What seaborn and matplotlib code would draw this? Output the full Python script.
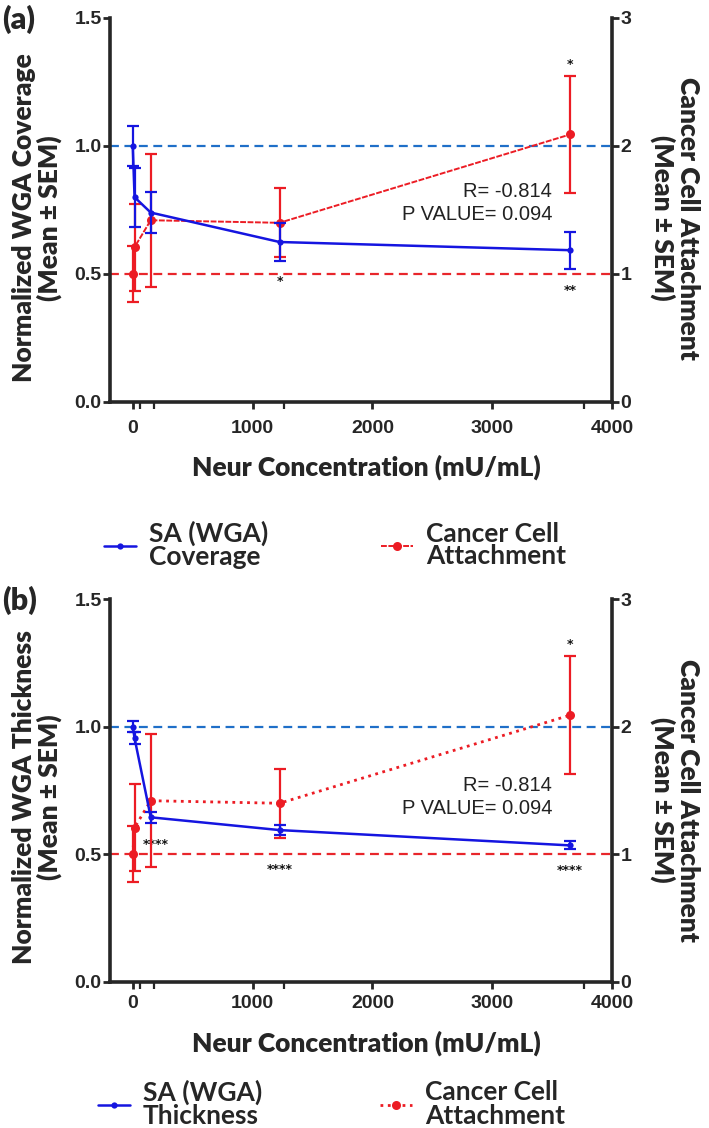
import matplotlib
matplotlib.use("Agg")
import matplotlib.pyplot as plt
from matplotlib.lines import Line2D
from matplotlib.ticker import FormatStrFormatter
import seaborn as sns

# Neuraminidase concentration (mU/mL)
conc = [0, 15, 150, 1225, 3650]

# (a) normalized WGA coverage (left axis)
cov_mean = [1.00, 0.80, 0.74, 0.625, 0.593]
cov_sem = [0.078, 0.115, 0.08, 0.073, 0.072]

# (b) normalized WGA thickness (left axis)
thk_mean = [1.00, 0.955, 0.645, 0.595, 0.535]
thk_sem = [0.022, 0.024, 0.022, 0.02, 0.016]

# cancer cell attachment (right axis), same in both panels
att_mean = [1.00, 1.21, 1.42, 1.40, 2.09]
att_sem = [0.22, 0.34, 0.52, 0.27, 0.46]

x_ticks = [0, 1000, 2000, 3000, 4000]
x_minor = [60, 180, 1260, 3770]
left_ticks = [0.0, 0.5, 1.0, 1.5]
right_ticks = [0, 1, 2, 3]

# significance marks (text, x, y on left axis)
stars_a_txt = ["*", "**", "*"]
stars_a_x = [1225, 3650, 3650]
stars_a_y = [0.47, 0.435, 1.32]
stars_b_txt = ["****", "****", "****", "*"]
stars_b_x = [190, 1225, 3650, 3650]
stars_b_y = [0.54, 0.44, 0.437, 1.32]

corr_text = "R= -0.814\nP VALUE= 0.094"

BLUE = "#1515e0"
RED = "#ec1c24"
REF_BLUE = "#1f6fc8"
REF_RED = "#e8262b"

W, H = 709, 1128

sns.set_style("ticks")
plt.rcParams["font.family"] = ["Lato", "DejaVu Sans"]


def fx(px):
    return px / W


def fy(py):
    return 1 - py / H


def draw_panel(ax, wga_mean, wga_sem, att_ls, att_lw, stars, text_y, tickpad):
    ax2 = ax.twinx()
    ax.axhline(1.0, color=REF_BLUE, ls=(0, (4, 2.5)), lw=1.6, zorder=1)
    ax.axhline(0.5, color=REF_RED, ls=(0, (4, 2.5)), lw=1.6, zorder=1)

    sns.lineplot(x=conc, y=att_mean, ax=ax2, color=RED, lw=att_lw, ls=att_ls,
                 marker="o", markersize=6.5, markeredgewidth=0, legend=False)
    ax2.errorbar(conc, att_mean, yerr=att_sem, fmt="none", ecolor=RED,
                 elinewidth=1.6, capsize=4, capthick=1.6)

    sns.lineplot(x=conc, y=wga_mean, ax=ax2, color=BLUE, lw=1.8,
                 marker="o", markersize=4.5, markeredgewidth=0, legend=False)
    ax2.lines[-1].set_ydata([v * 2 for v in wga_mean])
    ax2.errorbar(conc, [v * 2 for v in wga_mean], yerr=[v * 2 for v in wga_sem],
                 fmt="none", ecolor=BLUE, elinewidth=1.6, capsize=4, capthick=1.6)

    for t, x, y in zip(*stars):
        ax.text(x, y, t, ha="center", va="center", fontsize=9,
                color="#111111", weight="bold", family="DejaVu Sans")
    ax.text(3500, text_y, corr_text, ha="right", va="center", fontsize=14.5,
            family="Liberation Sans", linespacing=1.3, color="#222222", zorder=6)

    ax.set_xlim(-190, 4000)
    ax.set_ylim(0, 1.5)
    ax2.set_ylim(0, 3)
    ax.set_xticks(x_ticks)
    ax.set_xticks(x_minor, minor=True)
    ax.set_yticks(left_ticks)
    ax.yaxis.set_major_formatter(FormatStrFormatter("%.1f"))
    ax2.set_yticks(right_ticks)

    for s in ["top", "right"]:
        ax.spines[s].set_visible(False)
    for s in ["top", "left", "bottom"]:
        ax2.spines[s].set_visible(False)
    ax.spines["left"].set_linewidth(2.6)
    ax.spines["bottom"].set_linewidth(2.6)
    ax2.spines["right"].set_linewidth(2.6)

    ax.tick_params(axis="both", which="major", length=5, width=2, labelsize=14, pad=1)
    ax.tick_params(axis="x", which="major", pad=tickpad)
    ax.tick_params(axis="x", which="minor", length=5, width=1.6)
    ax2.tick_params(axis="y", length=5, width=2, labelsize=14, pad=1)
    for lbl in ax.get_xticklabels() + ax.get_yticklabels() + ax2.get_yticklabels():
        lbl.set_fontweight("bold")
        lbl.set_family("Liberation Sans")
    ax.set_xlabel("")
    ax.set_ylabel("")
    ax2.set_ylabel("")
    return ax2


fig = plt.figure(figsize=(W / 100, H / 100), dpi=100)
ax_a = fig.add_axes([fx(110), fy(402), fx(612) - fx(110), fy(18) - fy(402)])
ax_b = fig.add_axes([fx(110), fy(982), fx(612) - fx(110), fy(599) - fy(982)])

draw_panel(ax_a, cov_mean, cov_sem, (0, (3, 0.8)), 1.4,
           (stars_a_txt, stars_a_x, stars_a_y), 0.778, 8)
draw_panel(ax_b, thk_mean, thk_sem, ":", 2.0,
           (stars_b_txt, stars_b_x, stars_b_y), 0.725, 4)

lab_kw = dict(fontsize=19, weight="heavy", ha="center", va="center", linespacing=1.0)
fig.text(fx(2), fy(19), "(a)", fontsize=22, weight="heavy", ha="left", va="center")
fig.text(fx(2), fy(600), "(b)", fontsize=22, weight="heavy", ha="left", va="center")
fig.text(fx(37), fy(218), "Normalized WGA Coverage\n(Mean ± SEM)", rotation=90, **lab_kw)
fig.text(fx(37), fy(797), "Normalized WGA Thickness\n(Mean ± SEM)", rotation=90, **lab_kw)
fig.text(fx(675), fy(218), "Cancer Cell Attachment\n(Mean ± SEM)", rotation=270, **lab_kw)
fig.text(fx(675), fy(800), "Cancer Cell Attachment\n(Mean ± SEM)", rotation=270, **lab_kw)
fig.text(fx(366), fy(467), "Neur Concentration (mU/mL)", **lab_kw)
fig.text(fx(366), fy(1043), "Neur Concentration (mU/mL)", **lab_kw)

leg_kw = dict(frameon=False, handlelength=1.2, handletextpad=0.5,
              borderpad=0, borderaxespad=0, labelspacing=0, loc="center left",
              prop=dict(family="Lato", size=19, weight="bold"))


def add_legend(handle, label, px, py):
    leg = fig.legend([handle], [label], bbox_to_anchor=(fx(px), fy(py)), **leg_kw)
    for t in leg.get_texts():
        t.set_linespacing(0.95)


add_legend(Line2D([], [], color=BLUE, lw=1.8, marker="o", ms=4.5, mew=0),
           "SA (WGA)\nCoverage", 104, 545)
add_legend(Line2D([], [], color=RED, lw=1.4, ls=(0, (3, 0.8)), marker="o", ms=6.5, mew=0),
           "Cancer Cell\nAttachment", 381, 545)
add_legend(Line2D([], [], color=BLUE, lw=1.8, marker="o", ms=4.5, mew=0),
           "SA (WGA)\nThickness", 98, 1104)
add_legend(Line2D([], [], color=RED, lw=2.0, ls=":", marker="o", ms=6.5, mew=0),
           "Cancer Cell\nAttachment", 380, 1104)

fig.savefig("out.png", dpi=100)
